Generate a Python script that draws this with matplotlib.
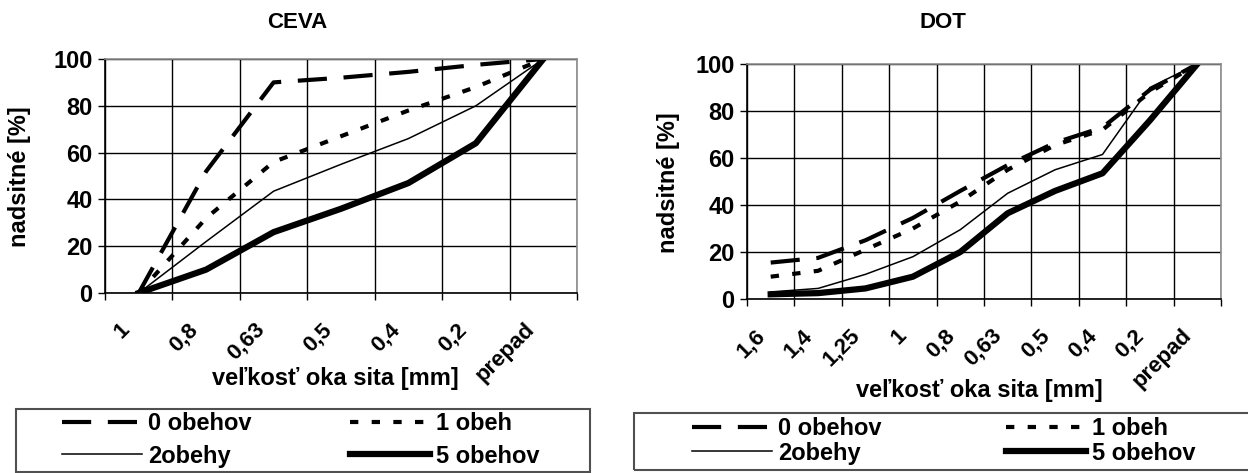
import numpy as np
import matplotlib
matplotlib.use("Agg")
import matplotlib.pyplot as plt
from matplotlib.patches import Rectangle
from matplotlib.transforms import ScaledTranslation

plt.rcParams['font.family'] = ['Liberation Sans', 'DejaVu Sans']
plt.rcParams['font.weight'] = 'bold'

# sieve sizes (categories) and percentages
ceva_sieves = ["1", "0,8", "0,63", "0,5", "0,4", "0,2", "prepad"]
ceva_0 = [0, 52, 90, 92, 94.5, 97.5, 100]
ceva_1 = [0, 32, 56, 67, 78, 88, 100]
ceva_2 = [0, 22, 43.5, 55, 66, 80, 100]
ceva_5 = [0, 10, 26, 36, 47, 64, 100]

dot_sieves = ["1,6", "1,4", "1,25", "1", "0,8", "0,63", "0,5", "0,4", "0,2", "prepad"]
dot_0 = [15.5, 17.5, 25, 34.5, 46, 57, 66.5, 73, 89, 100]
dot_1 = [9.5, 12, 21, 30, 41.5, 55, 65.5, 72, 88, 100]
dot_2 = [3, 4.5, 10.5, 18, 29.5, 45, 55, 61.5, 90, 100]
dot_5 = [2, 2.5, 4.5, 9.5, 20, 36.5, 46, 53.5, 76, 100]

names = ["0 obehov", "1 obeh", "2obehy", "5 obehov"]
styles = [dict(lw=3, ls=(0, (7, 4))),
          dict(lw=3, ls=(0, (2, 3.2))),
          dict(lw=1.1, ls='-'),
          dict(lw=4.5, ls='-')]

W, H = 1248, 473
fig = plt.figure(figsize=(W / 100, H / 100), dpi=100)


def box(x0, x1, ytop, ybot):
    return [x0 / W, 1 - ybot / H, (x1 - x0) / W, (ybot - ytop) / H]


def draw(ax, sieves, series, pad, dx):
    x = np.arange(len(sieves))
    lines = []
    for vals, name, st in zip(series, names, styles):
        ln, = ax.plot(x, vals, color='black', label=name, **st)
        lines.append(ln)
    n = len(sieves)
    ax.set_xlim(-0.5, n - 0.5)
    ax.set_ylim(0, 100)
    ax.set_yticks(range(0, 101, 20))
    ax.set_xticks(np.arange(n + 1) - 0.5)
    ax.set_xticklabels([])
    ax.set_xticks(x, minor=True)
    ax.set_xticklabels(sieves, minor=True, rotation=45, ha='right',
                       va='center', rotation_mode='anchor')
    ax.tick_params(axis='x', which='minor', length=0, pad=pad, labelsize=16)
    ax.tick_params(axis='both', which='major', length=5, width=1,
                   direction='out', color='black')
    ax.tick_params(axis='y', pad=4, labelsize=17)
    off = ScaledTranslation(dx / 100, 0, fig.dpi_scale_trans)
    for lab in ax.get_xticklabels(minor=True):
        lab.set_transform(lab.get_transform() + off)
    ax.grid(True, which='major', color='black', lw=1)
    ax.set_axisbelow(True)
    ax.spines['left'].set_color('black')
    ax.spines['bottom'].set_color('black')
    ax.spines['top'].set_color('#8c8c8c')
    ax.spines['right'].set_color('#8c8c8c')
    for s in ax.spines.values():
        s.set_linewidth(1.2)
    return lines


ax1 = fig.add_axes(box(105, 577, 59, 293))
l1 = draw(ax1, ceva_sieves, [ceva_0, ceva_1, ceva_2, ceva_5], 24, -12)
ax2 = fig.add_axes(box(747, 1221, 64, 299))
l2 = draw(ax2, dot_sieves, [dot_0, dot_1, dot_2, dot_5], 24, -9)

fig.text(297 / W, 1 - 23 / H, "CEVA", ha='center', va='center', fontsize=16)
fig.text(943 / W, 1 - 23 / H, "DOT", ha='center', va='center', fontsize=16)
fig.text(20 / W, 1 - 177 / H, "nadsitné [%]", rotation=90, ha='center', va='center', fontsize=17)
fig.text(668 / W, 1 - 183 / H, "nadsitné [%]", rotation=90, ha='center', va='center', fontsize=17)
fig.text(335 / W, 1 - 378 / H, "veľkosť oka sita [mm]", ha='center', va='center', fontsize=17)
fig.text(979 / W, 1 - 390 / H, "veľkosť oka sita [mm]", ha='center', va='center', fontsize=17)

order = [0, 2, 1, 3]
legends = [(l1, (16, 590, 409, 472), 62, 440, 0.4, 4.15),
           (l2, (634, 1256, 413, 470), 692, 441, 0.05, 5.25)]
for lines, (x0, x1, yt, yb), hx, hy, sp, cs in legends:
    fig.patches.append(Rectangle((x0 / W, 1 - yb / H), (x1 - x0) / W, (yb - yt) / H,
                                 transform=fig.transFigure, fill=False,
                                 edgecolor='#505050', lw=1.5))
    fig.legend([lines[i] for i in order], [names[i] for i in order],
               loc='center left', bbox_to_anchor=(hx / W, 1 - hy / H),
               ncol=2, frameon=False, fontsize=17,
               handlelength=3.4, handletextpad=0.25, labelspacing=sp,
               columnspacing=cs, borderpad=0, borderaxespad=0)

fig.savefig("out.png", dpi=100)
